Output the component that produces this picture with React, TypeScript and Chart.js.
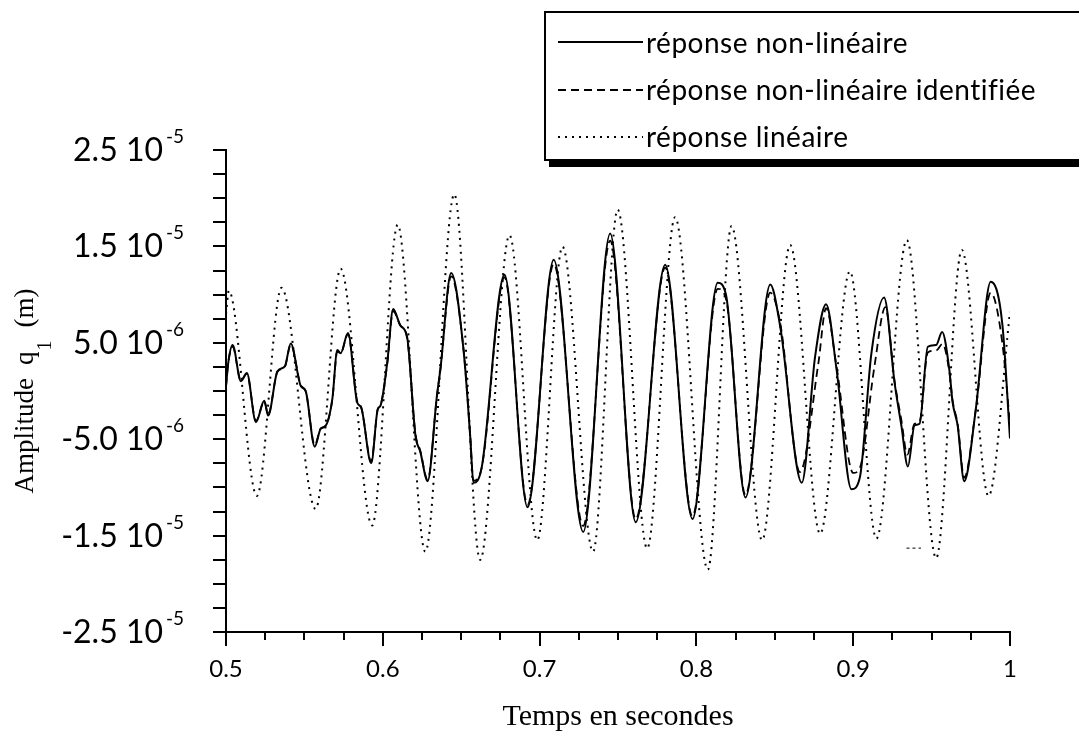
import React, { useEffect, useRef } from "react";
import { Chart, registerables } from "chart.js";

Chart.register(...registerables);

// values are in micro-metres (x 1e-6 m)
const MICRO = 1e-6;

// réponse non-linéaire (solid)
const nlT = [
  0.5, 0.5015, 0.5042, 0.5095, 0.5133, 0.5191, 0.5244, 0.5269, 0.5328, 0.5375,
  0.5413, 0.5477, 0.5508, 0.5566, 0.5604, 0.5636, 0.5678, 0.571, 0.5731, 0.5778,
  0.5837, 0.5862, 0.5926, 0.5968, 0.5985, 0.6028, 0.6066, 0.6112, 0.6155, 0.6208,
  0.6239, 0.6286, 0.6345, 0.6367, 0.6436, 0.6515, 0.6557, 0.6578, 0.663, 0.6776,
  0.6923, 0.709, 0.7278, 0.745, 0.7613, 0.7801, 0.7975, 0.8136, 0.8188, 0.8313,
  0.8471, 0.8535, 0.8672, 0.8757, 0.8827, 0.8894, 0.8989, 0.9042, 0.9116, 0.9197,
  0.9264, 0.9307, 0.9349, 0.9391, 0.9423, 0.9476, 0.9529, 0.9567, 0.9613, 0.9634,
  0.9666, 0.9708, 0.9782, 0.9877, 0.9951, 1.0,
];
const nlY = [
  0.5, 3.0, 4.76, 1.02, 1.87, -3.23, -1.02, -2.55, 2.04, 2.55,
  4.93, 0.51, 0.0, -5.78, -3.91, -3.6, -0.85, 4.25, 3.91, 6.02,
  -1.19, -1.7, -7.48, -1.87, -1.53, 2.89, 8.5, 6.8, 5.61, -4.59,
  -6.29, -9.35, -0.51, 2.21, 12.24, 4.25, -4.59, -9.52, -8.0, 12.07,
  -12.07, 13.61, -14.63, 16.33, -13.61, 13.1, -13.27, 11.22, 10.03, -11.05,
  11.05, 6.63, -9.52, 3.57, 9.01, 2.21, -10.2, -9.01, 3.91, 9.69,
  0.85, -3.57, -7.82, -3.57, -3.4, 4.59, 4.76, 6.12, 2.21, -1.19,
  -3.57, -9.35, -1.87, 11.33, 6.97, -4.93,
];

// réponse non-linéaire identifiée (dashed)
const idT = [
  0.5, 0.5015, 0.5042, 0.5095, 0.5133, 0.5191, 0.5244, 0.5269, 0.5328, 0.5375,
  0.5413, 0.5477, 0.5508, 0.5566, 0.5604, 0.5636, 0.5678, 0.571, 0.5731, 0.5778,
  0.5837, 0.5862, 0.5926, 0.5968, 0.5985, 0.6028, 0.6066, 0.6112, 0.6155, 0.6208,
  0.6239, 0.6286, 0.6345, 0.6367, 0.6436, 0.6515, 0.6557, 0.6578, 0.663, 0.6776,
  0.6923, 0.709, 0.7278, 0.745, 0.7613, 0.7801, 0.7975, 0.8136, 0.8188, 0.8313,
  0.8471, 0.8535, 0.866, 0.8778, 0.8827, 0.8894, 0.9, 0.9042, 0.9135, 0.9205,
  0.9264, 0.9307, 0.9345, 0.9391, 0.9423, 0.9476, 0.9529, 0.957, 0.9613, 0.9634,
  0.9666, 0.9708, 0.9782, 0.9877, 0.9951, 1.0,
];
const idY = [
  0.5, 3.0, 4.6, 1.1, 1.8, -3.1, -1.1, -2.4, 2.0, 2.5,
  4.8, 0.6, 0.0, -5.6, -3.9, -3.6, -0.9, 4.1, 3.9, 5.9,
  -1.1, -1.7, -7.3, -1.9, -1.5, 2.8, 8.3, 6.8, 5.5, -4.4,
  -6.2, -9.2, -0.6, 2.2, 11.9, 4.3, -4.5, -9.3, -8.0, 11.8,
  -11.8, 13.2, -14.0, 15.6, -13.3, 12.8, -13.0, 10.6, 9.6, -10.8,
  10.2, 7.0, -8.4, 2.9, 8.6, 2.5, -8.5, -8.0, 2.5, 8.7,
  1.0, -3.0, -6.6, -3.4, -3.2, 4.0, 4.2, 4.9, 2.0, -1.0,
  -3.4, -9.0, -1.9, 10.2, 5.0, -3.5,
];

// réponse linéaire (dotted)
const linT = [
  0.5, 0.5018, 0.5197, 0.5354, 0.5572, 0.5731, 0.5932, 0.6095, 0.6271, 0.6456,
  0.6621, 0.6808, 0.6985, 0.7146, 0.7341, 0.7498, 0.7686, 0.7864, 0.8073, 0.8224,
  0.8419, 0.8598, 0.8789, 0.8979, 0.9148, 0.9342, 0.9529, 0.9693, 0.9863, 1.0,
];
const linY = [
  8.0, 10.4, -10.88, 10.71, -12.24, 12.69, -13.95, 17.24, -16.67, 20.41,
  -17.52, 16.16, -15.48, 14.97, -16.67, 18.81, -16.33, 18.03, -18.54, 17.11,
  -15.48, 15.14, -14.8, 12.41, -15.31, 15.65, -17.35, 14.63, -10.88, 8.2,
];

// small stray dashed mark in the scan
const artT = [0.934, 0.9432];
const artY = [-16.3, -16.3];

const xTickValues = [0.5, 0.6, 0.7, 0.8, 0.9, 1];
const xTickLabels = ["0.5", "0.6", "0.7", "0.8", "0.9", "1"];
const yTickValues = [2.5e-5, 1.5e-5, 5e-6, -5e-6, -1.5e-5, -2.5e-5];
const yTickMantissas = ["2.5 10", "1.5 10", "5.0 10", "-5.0 10", "-1.5 10", "-2.5 10"];
const yTickExponents = ["-5", "-5", "-6", "-6", "-5", "-5"];
const legendLabels = [
  "réponse non-linéaire",
  "réponse non-linéaire identifiée",
  "réponse linéaire",
];
const xTitle = "Temps en secondes";
const yTitleMain = "Amplitude";
const yTitleSym = "q";
const yTitleSub = "1";
const yTitleUnit = "(m)";

const SOLID: number[] = [];
const DASHED = [8, 5];
const DOTTED = [2, 5];
const ART_DASH = [3, 3];

const toPoints = (t: number[], y: number[]) =>
  t.map((v, i) => ({ x: v, y: y[i] * MICRO }));

const SANS = "Lato, 'DejaVu Sans', sans-serif";
const SERIF = "'Liberation Serif', 'DejaVu Serif', serif";

const decorPlugin = {
  id: "decor",
  afterDraw(chart: any) {
    const ctx: any = chart.ctx;
    const xs = chart.scales.x;
    const ys = chart.scales.y;
    const area = chart.chartArea;
    ctx.save();
    ctx.strokeStyle = "#000";
    ctx.fillStyle = "#000";
    ctx.lineWidth = 2;
    ctx.setLineDash([]);

    // x ticks
    xs.ticks.forEach((t: any) => {
      const px = Math.round(xs.getPixelForValue(t.value));
      const major = xTickValues.some((v) => Math.abs(v - t.value) < 1e-6);
      ctx.beginPath();
      ctx.moveTo(px, area.bottom);
      ctx.lineTo(px, area.bottom + (major ? 14 : 8));
      ctx.stroke();
    });
    // y ticks
    ys.ticks.forEach((t: any) => {
      const py = Math.round(ys.getPixelForValue(t.value));
      ctx.beginPath();
      ctx.moveTo(area.left, py);
      ctx.lineTo(area.left - 13, py);
      ctx.stroke();
    });

    // x labels
    ctx.font = `24px ${SANS}`;
    ctx.textAlign = "center";
    ctx.textBaseline = "alphabetic";
    xTickValues.forEach((v, i) => {
      ctx.fillText(xTickLabels[i], xs.getPixelForValue(v), area.bottom + 45);
    });

    // y labels with exponent
    yTickValues.forEach((v, i) => {
      const py = ys.getPixelForValue(v);
      ctx.font = `32px ${SANS}`;
      ctx.textAlign = "right";
      ctx.fillText(yTickMantissas[i], 163, py + 11);
      ctx.font = `19px ${SANS}`;
      ctx.textAlign = "left";
      ctx.fillText(yTickExponents[i], 166, py - 7);
    });

    // x title
    ctx.font = `30px ${SERIF}`;
    ctx.textAlign = "center";
    ctx.fillText(xTitle, (area.left + area.right) / 2, 725);

    // y title (rotated)
    ctx.save();
    ctx.font = `27px ${SERIF}`;
    const wMain = ctx.measureText(yTitleMain).width;
    const wSym = ctx.measureText(yTitleSym).width;
    const wUnit = ctx.measureText(yTitleUnit).width;
    ctx.font = `20px ${SERIF}`;
    const wSub = ctx.measureText(yTitleSub).width;
    const gap = 13;
    const total = wMain + gap + wSym + 1 + wSub + gap + wUnit;
    const cy = (area.top + area.bottom) / 2;
    ctx.translate(33, cy + total / 2);
    ctx.rotate(-Math.PI / 2);
    ctx.textAlign = "left";
    let tx = 0;
    ctx.font = `27px ${SERIF}`;
    ctx.fillText(yTitleMain, tx, 0);
    tx += wMain + gap;
    ctx.fillText(yTitleSym, tx, 0);
    tx += wSym + 1;
    ctx.font = `20px ${SERIF}`;
    ctx.fillText(yTitleSub, tx, 18);
    tx += wSub + gap;
    ctx.font = `27px ${SERIF}`;
    ctx.fillText(yTitleUnit, tx, 0);
    ctx.restore();

    // legend box with shadow
    const bx = 545, by = 12, bw = 560, bh = 148;
    ctx.fillStyle = "#fff";
    ctx.fillRect(bx, by, bw, bh);
    ctx.fillStyle = "#000";
    ctx.lineWidth = 2;
    ctx.strokeRect(bx, by, bw, bh);
    ctx.fillRect(bx + 4, by + bh - 1, bw, 8);

    const rows = [42, 90, 137];
    const dashes = [SOLID, DASHED, DOTTED];
    const widths = [2, 1.8, 2];
    rows.forEach((ry, i) => {
      ctx.setLineDash(dashes[i]);
      ctx.lineWidth = widths[i];
      ctx.beginPath();
      ctx.moveTo(558, ry);
      ctx.lineTo(643, ry);
      ctx.stroke();
    });
    ctx.setLineDash([]);
    ctx.font = `28px ${SANS}`;
    if ("letterSpacing" in ctx) ctx.letterSpacing = "0.5px";
    ctx.textAlign = "left";
    ctx.fillStyle = "#000";
    const baselines = [53, 100, 147];
    legendLabels.forEach((l, i) => ctx.fillText(l, 646, baselines[i]));
    if ("letterSpacing" in ctx) ctx.letterSpacing = "0px";

    ctx.restore();
  },
};

export default function App() {
  const ref = useRef<HTMLCanvasElement | null>(null);
  useEffect(() => {
    if (!ref.current) return;
    const common = {
      pointRadius: 0,
      borderColor: "#000",
      fill: false,
      cubicInterpolationMode: "monotone" as const,
    };
    const chart = new Chart(ref.current, {
      type: "line",
      data: {
        datasets: [
          { ...common, label: legendLabels[2], data: toPoints(linT, linY), borderWidth: 2, borderDash: DOTTED },
          { ...common, label: legendLabels[1], data: toPoints(idT, idY), borderWidth: 1.8, borderDash: DASHED },
          { ...common, label: legendLabels[0], data: toPoints(nlT, nlY), borderWidth: 2 },
          { ...common, label: "", data: toPoints(artT, artY), borderWidth: 1, borderDash: ART_DASH },
        ],
      },
      options: {
        animation: false,
        responsive: false,
        devicePixelRatio: 1,
        layout: { padding: { left: 218, top: 150, right: 69, bottom: 98 } },
        plugins: { legend: { display: false }, tooltip: { enabled: false } },
        scales: {
          x: {
            type: "linear",
            min: 0.5,
            max: 1,
            ticks: { display: false, stepSize: 0.025 },
            grid: { display: false },
            border: { display: true, color: "#000", width: 2 },
          },
          y: {
            type: "linear",
            min: -2.5e-5,
            max: 2.5e-5,
            ticks: { display: false, stepSize: 2.5e-6 },
            grid: { display: false },
            border: { display: true, color: "#000", width: 2 },
          },
        },
      },
      plugins: [decorPlugin],
    });
    return () => chart.destroy();
  }, []);
  return (
    <div style={{ position: "absolute", left: 0, top: 0, width: 1079, height: 738, background: "#fff" }}>
      <canvas ref={ref} width={1079} height={738} style={{ display: "block" }} />
    </div>
  );
}
